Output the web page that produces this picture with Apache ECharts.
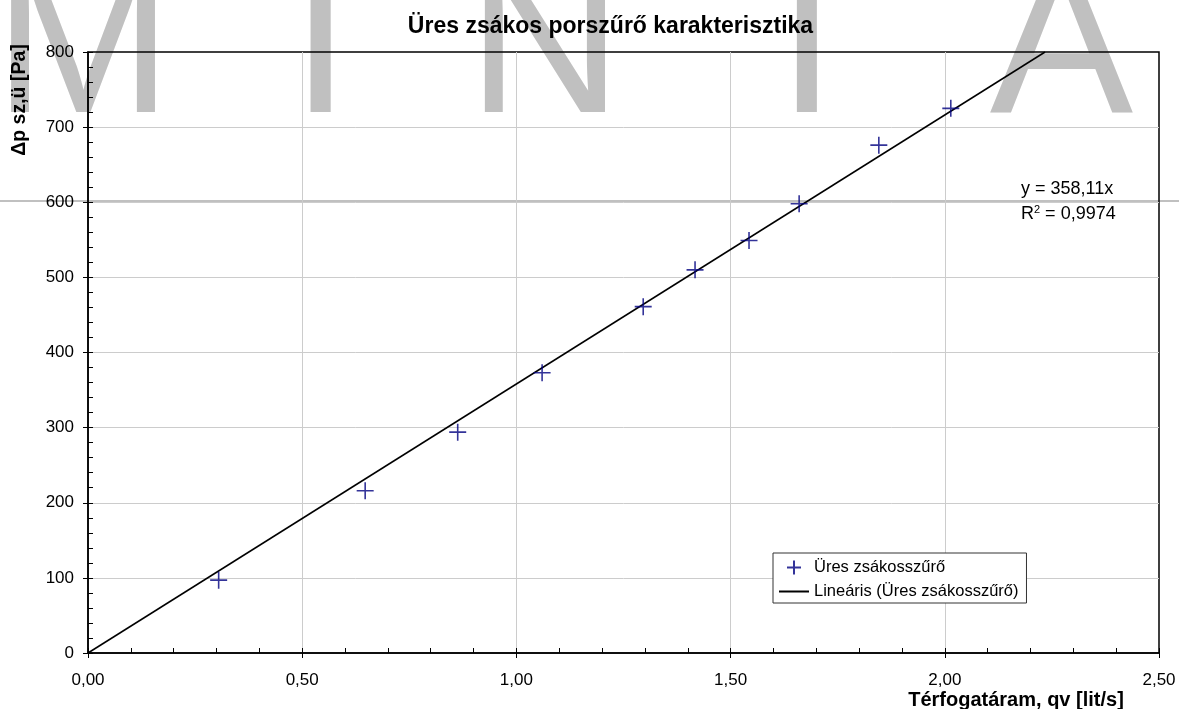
<!DOCTYPE html>
<html>
<head>
<meta charset="utf-8">
<script src="https://cdn.jsdelivr.net/npm/echarts@6/dist/echarts.min.js"></script>
<style>html,body{margin:0;padding:0;background:#fff}#c{width:1179px;height:709px}</style>
</head>
<body>
<div id="c"></div>
<script>
// ---- data ----
const flowX = [0.305, 0.647, 0.863, 1.060, 1.296, 1.417, 1.543, 1.660, 1.846, 2.014];
const dpY   = [97, 216, 294, 373, 461, 510, 549, 598, 676, 725];
const trendX = [0, 2.234];
const trendY = [0, 800];
const xTicks = [0, 0.5, 1.0, 1.5, 2.0, 2.5];
const yTicks = [0, 100, 200, 300, 400, 500, 600, 700, 800];
const seriesName = 'Üres zsákosszűrő';
const trendName = 'Lineáris (Üres zsákosszűrő)';
const chartTitle = 'Üres zsákos porszűrő karakterisztika';
const xTitle = 'Térfogatáram, qv [lit/s]';
const yTitle = 'Δp sz,ü [Pa]';
const eqLine1 = 'y = 358,11x';
const eqR2 = '0,9974';
const watermark = ['M', 'I', 'N', 'T', 'A'];
const watermarkX = [83, 320.5, 545, 807, 1061.5];

const FONT = '"Liberation Sans", Arial, sans-serif';
const chart = echarts.init(document.getElementById('c'), null, {renderer: 'canvas'});

const scatterData = flowX.map((x, i) => [x, dpY[i]]);
const trendData = trendX.map((x, i) => [x, trendY[i]]);

const graphics = [];
watermark.forEach((ch, i) => {
  graphics.push({
    type: 'text', z: -10, silent: true,
    x: watermarkX[i], y: 160,
    style: {text: ch, font: '215px ' + FONT, fill: '#c0c0c0', textAlign: 'center', textVerticalAlign: 'bottom'}
  });
});
graphics.push({
  type: 'line', z: -10, silent: true,
  shape: {x1: 0, y1: 201, x2: 1179, y2: 201},
  style: {stroke: '#c0c0c0', lineWidth: 2}
});
graphics.push({
  type: 'text', x: 610.5, y: 27,
  style: {text: chartTitle, font: 'bold 23px ' + FONT, fill: '#000', textAlign: 'center', textVerticalAlign: 'middle'}
});
graphics.push({
  type: 'text', x: 1016, y: 700,
  style: {text: xTitle, font: 'bold 20px ' + FONT, fill: '#000', textAlign: 'center', textVerticalAlign: 'middle'}
});
graphics.push({
  type: 'text', x: 20, y: 100, rotation: Math.PI / 2,
  style: {text: yTitle, font: 'bold 19.5px ' + FONT, fill: '#000', textAlign: 'center', textVerticalAlign: 'middle'}
});
graphics.push({
  type: 'text', x: 1021, y: 189,
  style: {text: eqLine1, font: '18px ' + FONT, fill: '#000', textAlign: 'left', textVerticalAlign: 'middle'}
});
graphics.push({
  type: 'text', x: 1021, y: 214,
  style: {
    text: '{n|R}{s|2}{n| = ' + eqR2 + '}',
    textAlign: 'left', textVerticalAlign: 'middle',
    rich: {
      n: {fontSize: 18, fontFamily: FONT, fill: '#000', color: '#000'},
      s: {fontSize: 11, fontFamily: FONT, fill: '#000', color: '#000', verticalAlign: 'top', padding: [0, 0, 8, 0]}
    }
  }
});

const fmtX = v => Number(v).toFixed(2).replace('.', ',');

const option = {
  animation: false,
  backgroundColor: '#fff',
  grid: {left: 88, right: 20, top: 52, bottom: 56, show: true, borderColor: '#000', borderWidth: 1.5, backgroundColor: 'transparent'},
  legend: {
    orient: 'vertical', left: 773, top: 553,
    padding: [5, 8, 3, 5], itemGap: 6, itemWidth: 30, itemHeight: 14,
    backgroundColor: '#fff', borderColor: '#333', borderWidth: 1,
    textStyle: {fontSize: 16.5, fontFamily: FONT, color: '#000'},
    data: [
      {name: seriesName},
      {name: trendName, itemStyle: {opacity: 0, color: 'rgba(0,0,0,0)', borderColor: 'rgba(0,0,0,0)'}}
    ]
  },
  xAxis: [{
    type: 'value', min: xTicks[0], max: xTicks[xTicks.length - 1], interval: xTicks[1] - xTicks[0],
    position: 'bottom',
    axisLine: {onZero: false, lineStyle: {color: '#000', width: 1.5}},
    axisTick: {show: true, inside: false, length: 5, lineStyle: {color: '#000'}},
    axisLabel: {formatter: fmtX, fontSize: 17, fontFamily: FONT, color: '#000', margin: 19},
    splitLine: {show: true, showMinLine: false, showMaxLine: false, lineStyle: {color: '#cccccc', width: 1}}
  }, {
    type: 'value', min: 0, max: 2.5, interval: 0.1, position: 'bottom',
    axisLine: {show: false, onZero: false},
    axisTick: {show: true, inside: true, length: 5, lineStyle: {color: '#000'}},
    axisLabel: {show: false}, splitLine: {show: false}
  }],
  yAxis: [{
    type: 'value', min: yTicks[0], max: yTicks[yTicks.length - 1], interval: yTicks[1] - yTicks[0],
    position: 'left',
    axisLine: {show: true, onZero: false, lineStyle: {color: '#000', width: 1.5}},
    axisTick: {show: true, inside: false, length: 5, lineStyle: {color: '#000'}},
    axisLabel: {fontSize: 17, fontFamily: FONT, color: '#000', margin: 14},
    splitLine: {show: true, showMinLine: false, showMaxLine: false, lineStyle: {color: '#cccccc', width: 1}}
  }, {
    type: 'value', min: 0, max: 800, interval: 20, position: 'left',
    axisLine: {show: false, onZero: false},
    axisTick: {show: true, inside: true, length: 5, lineStyle: {color: '#000'}},
    axisLabel: {show: false}, splitLine: {show: false}
  }],
  series: [{
    name: trendName, type: 'line', data: trendData, xAxisIndex: 0, yAxisIndex: 0,
    symbol: 'none', showSymbol: false, z: 3,
    lineStyle: {color: '#000', width: 1.5}, itemStyle: {color: '#000'}
  }, {
    name: seriesName, type: 'scatter', data: scatterData, xAxisIndex: 0, yAxisIndex: 0, z: 4,
    symbol: 'path://M0,5L10,5M5,0L5,10', symbolSize: 17,
    itemStyle: {color: 'none', borderColor: '#000080', borderWidth: 1.6}
  }],
  graphic: graphics
};
chart.setOption(option);
</script>
</body>
</html>
